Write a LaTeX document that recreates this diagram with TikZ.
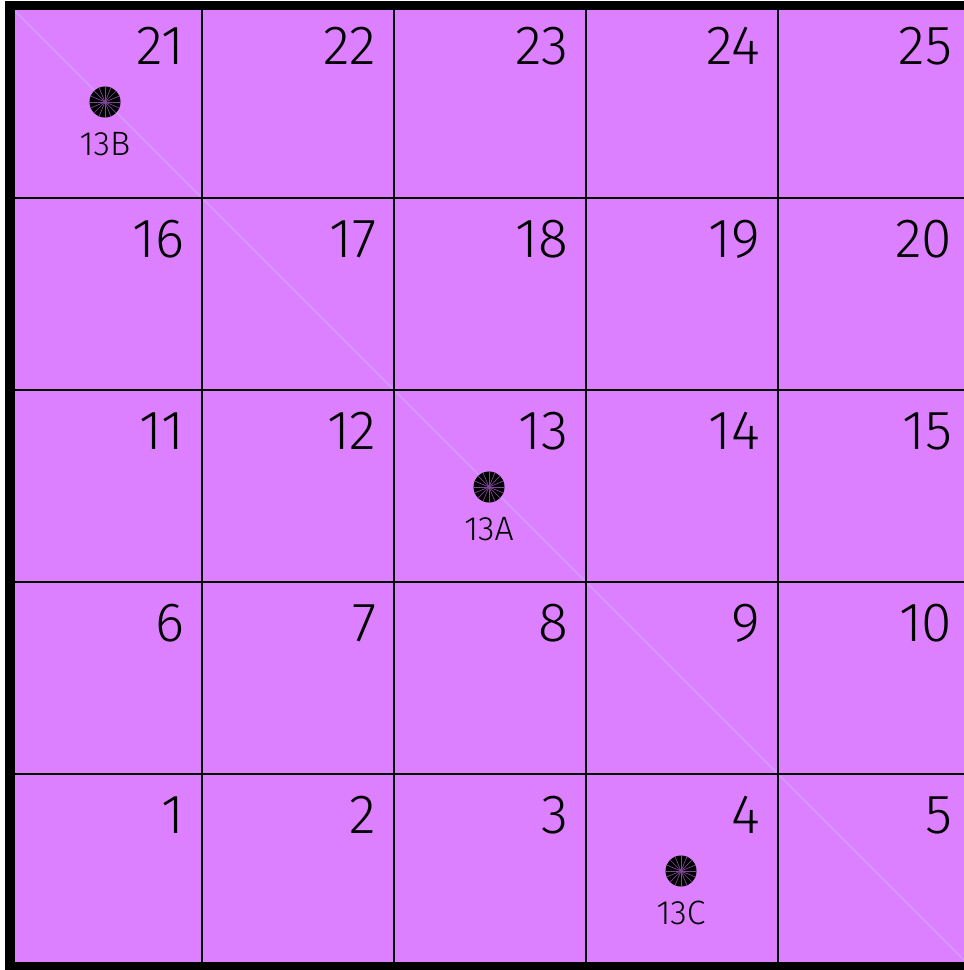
\documentclass[tikz,border=0pt]{standalone}
\usepackage{fontspec}
\newfontfamily\cadfont{Fira Sans Light}
\definecolor{cellpink}{RGB}{221,128,255}
\definecolor{diagline}{RGB}{206,162,255}
\definecolor{spokeline}{RGB}{125,70,150}
\tikzset{
  gridline/.style={line width=0.028cm,black},
  frameline/.style={line width=0.09cm,black},
  cellno/.style={anchor=base east,inner sep=0pt,font=\cadfont\fontsize{15.7}{18}\selectfont},
  pinhole/.style={circle,fill=black,minimum size=0.31cm,inner sep=0pt,
    path picture={\foreach \a in {0,22.5,...,337.5}
      \draw[spokeline,line width=0.2pt] (path picture bounding box.center) -- ++(\a:16);}},
  pinlabel/.style={anchor=base,inner sep=0pt,font=\cadfont\fontsize{9.6}{11}\selectfont}
}

\begin{document}
\begin{tikzpicture}[x=0.01cm,y=-0.01cm]
\useasboundingbox (0,0) rectangle (964,970);
% plate and diagonal
\fill[cellpink] (10,6) rectangle (970,966);
\draw[diagline,line width=0.4pt] (10,6) -- (970,966);
% grid
\draw[gridline] (202,6) -- (202,966);
\draw[gridline] (394,6) -- (394,966);
\draw[gridline] (586,6) -- (586,966);
\draw[gridline] (778,6) -- (778,966);
\draw[gridline] (10,198) -- (970,198);
\draw[gridline] (10,390) -- (970,390);
\draw[gridline] (10,582) -- (970,582);
\draw[gridline] (10,774) -- (970,774);
\draw[frameline] (10,6) rectangle (970,966);
% cell numbers
\node (n-21) at (185,65) [cellno] {21};
\node (n-22) at (377,65) [cellno] {22};
\node (n-23) at (569,65) [cellno] {23};
\node (n-24) at (761,65) [cellno] {24};
\node (n-25) at (953,65) [cellno] {25};
\node (n-16) at (185,257) [cellno] {16};
\node (n-17) at (377,257) [cellno] {17};
\node (n-18) at (569,257) [cellno] {18};
\node (n-19) at (761,257) [cellno] {19};
\node (n-20) at (953,257) [cellno] {20};
\node (n-11) at (185,449) [cellno] {11};
\node (n-12) at (377,449) [cellno] {12};
\node (n-13) at (569,449) [cellno] {13};
\node (n-14) at (761,449) [cellno] {14};
\node (n-15) at (953,449) [cellno] {15};
\node (n-6) at (185,641) [cellno] {6};
\node (n-7) at (377,641) [cellno] {7};
\node (n-8) at (569,641) [cellno] {8};
\node (n-9) at (761,641) [cellno] {9};
\node (n-10) at (953,641) [cellno] {10};
\node (n-1) at (185,833) [cellno] {1};
\node (n-2) at (377,833) [cellno] {2};
\node (n-3) at (569,833) [cellno] {3};
\node (n-4) at (761,833) [cellno] {4};
\node (n-5) at (953,833) [cellno] {5};
% pins
\node (p-13B) at (105,102) [pinhole] {};
\node (l-13B) at (105,156) [pinlabel] {13B};
\node (p-13A) at (489,487) [pinhole] {};
\node (l-13A) at (489,540) [pinlabel] {13A};
\node (p-13C) at (681,871) [pinhole] {};
\node (l-13C) at (681,924) [pinlabel] {13C};
\end{tikzpicture}
\end{document}
